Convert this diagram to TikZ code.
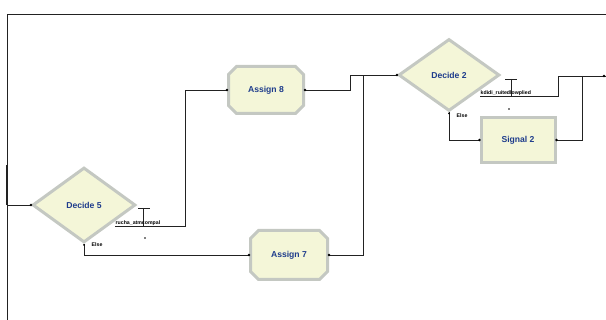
\documentclass[tikz,border=0pt]{standalone}
\usepackage{fontspec}
\setmainfont{Liberation Sans}
\usetikzlibrary{shapes.geometric,shapes.misc}
\definecolor{boxfill}{HTML}{F4F6D8}
\definecolor{boxline}{HTML}{C4C8C2}
\definecolor{txtblue}{HTML}{1E3C8C}
\definecolor{wire}{HTML}{222222}
\tikzset{
  module/.style={fill=boxfill,draw=boxline,line width=3pt,text=txtblue,
    font=\fontsize{8.6}{9}\selectfont\bfseries,inner sep=0pt},
  decidebox/.style={module,diamond,minimum width=#1},
  assignbox/.style={module,chamfered rectangle,chamfered rectangle xsep=4pt,chamfered rectangle ysep=4pt,chamfered rectangle corners={north east,north west,south east,south west},minimum width=75pt,minimum height=47pt},
  signalbox/.style={module,rectangle,minimum width=74pt,minimum height=45pt},
  wireline/.style={draw=wire,line width=0.9pt},
  tinylabel/.style={font=\fontsize{5.2}{5.5}\selectfont\bfseries,inner sep=0.5pt,text=black},
  dotmark/.style={circle,fill=black,inner sep=0pt,minimum size=2.6pt}
}
\begin{document}
\begin{tikzpicture}[x=1pt,y=-1pt]
\useasboundingbox (0,0) rectangle (606,320);
% nodes
\node[decidebox=103pt,minimum height=75pt] (d5) at (84,205) {Decide 5};
\node[decidebox=101pt,minimum height=72pt] (d2) at (449,75) {Decide 2};
\node[assignbox] (a8) at (266,90) {Assign 8};
\node[assignbox,minimum width=77pt,minimum height=49pt] (a7) at (289,255) {Assign 7};
\node[signalbox] (s2) at (518,140) {Signal 2};
% coordinates
\coordinate (tr) at (606,14);
\coordinate (tl) at (7,14);
\coordinate (bl) at (7,320);
\coordinate (lj) at (7,205);
\coordinate (lt) at (7,165);
\coordinate (d5ta) at (138,208);
\coordinate (d5tb) at (150,208);
\coordinate (d5tm) at (143,208);
\coordinate (d5tl) at (143,226);
\coordinate (d5ha) at (115,226);
\coordinate (d5hb) at (185,226);
\coordinate (d2ta) at (505,79);
\coordinate (d2tb) at (517,79);
\coordinate (d2tm) at (511,79);
\coordinate (d2tl) at (511,96);
\coordinate (d2ha) at (480,96);
\coordinate (d2hb) at (558,96);
\coordinate (outr) at (606,76);
\coordinate (j1) at (350,90);
\coordinate (j2) at (350,75);
\coordinate (j3) at (363,75);
\coordinate (j4) at (582,76);
% frame
\draw[wireline] (tr) -- (tl) -- (bl);
\draw[wire,line width=2.2pt] (lt) -- (lj);
\draw[wireline] (lj) -- (d5.west);
% decide 5 true branch
\draw[wireline] (d5ta) -- (d5tb);
\draw[wireline] (d5tm) -- (d5tl);
\draw[wireline] (d5ha) -- (d5hb) |- (a8.west);
\node[tinylabel,anchor=south west] (l5) at (115,226.5) {rucha\_atmcompal};
\node[dotmark,minimum size=1.6pt] (p5) at (145,238) {};
% decide 5 else branch
\draw[wireline] (d5.south) |- (a7.west);
\node[tinylabel,anchor=west] (e5) at (91,245) {Else};
% assign outputs
\draw[wireline] (a8.east) -- (j1) -- (j2) -- (d2.west);
\draw[wireline] (a7.east) -| (j3);
% decide 2 true branch
\draw[wireline] (d2ta) -- (d2tb);
\draw[wireline] (d2tm) -- (d2tl);
\draw[wireline] (d2ha) -- (d2hb) |- (outr);
\draw[wireline] (j4) |- (s2.east);
\node[tinylabel,anchor=south west] (l2) at (480,96.5) {kdidi\_ruitedlowplied};
\node[dotmark,minimum size=1.6pt] (p2) at (509,109) {};
% decide 2 else branch
\draw[wireline] (d2.south) |- (s2.west);
\node[tinylabel,anchor=west] (e2) at (456,116) {Else};
% connection dots
\foreach \p in {d5.west,a8.west,a8.east,a7.west,a7.east,d2.west,s2.west,s2.east}
  \fill (\p) circle (1.3pt);
\fill (604,76) circle (1.3pt);
\fill (d5.south) ++(0,1) circle (1pt);
\fill (d2.south) ++(0,1) circle (1pt);
\end{tikzpicture}
\end{document}
